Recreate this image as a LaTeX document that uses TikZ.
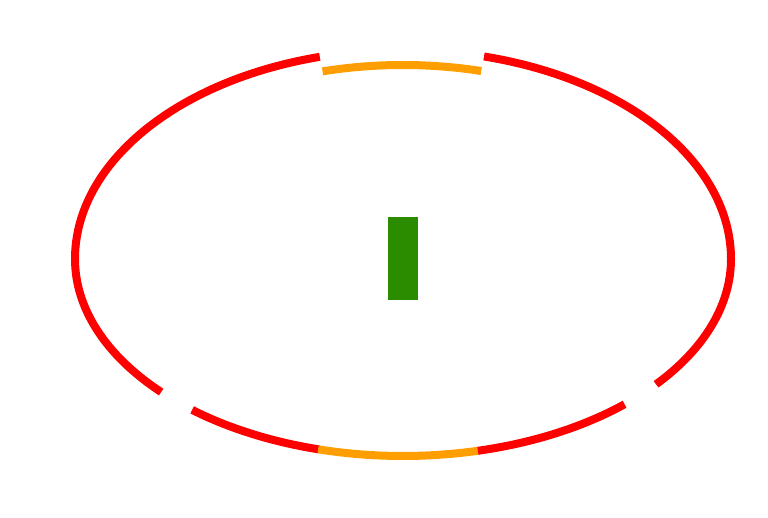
\documentclass[tikz,border=0pt]{standalone}
\begin{document}
\begin{tikzpicture}[x=1pt,y=1pt,
  ring/.style={line width=8pt, line cap=butt},
  redring/.style={ring, draw=ringred},
  orangering/.style={ring, draw=ringorange},
  bar/.style={fill=bargreen, draw=none, minimum width=30pt, minimum height=83pt, inner sep=0pt}]
\definecolor{ringred}{RGB}{255,0,0}
\definecolor{ringorange}{RGB}{255,158,0}
\definecolor{bargreen}{RGB}{43,140,0}
\useasboundingbox (0,0) rectangle (768,518);
\coordinate (c) at (403,259);
\coordinate (ct) at (403,244);
% red arcs (upper half ry=209, lower half ry=197)
\draw[redring] (c) ++(104.7:328 and 209)
  arc[start angle=104.7, end angle=180, x radius=328, y radius=209]
  arc[start angle=180, end angle=222.5, x radius=328, y radius=197];
\draw[redring] (c) ++(230:328 and 197) arc[start angle=230, end angle=255.2, x radius=328, y radius=197];
\draw[orangering] (c) ++(255:328 and 197) arc[start angle=255, end angle=283.4, x radius=328, y radius=197];
\draw[redring] (c) ++(283.2:328 and 197) arc[start angle=283.2, end angle=312.5, x radius=328, y radius=197];
\draw[redring] (c) ++(320.5:328 and 197)
  arc[start angle=320.5, end angle=360, x radius=328, y radius=197]
  arc[start angle=0, end angle=75.7, x radius=328, y radius=209];
% top orange arc
\draw[orangering] (ct) ++(104.2:328 and 209) arc[start angle=104.2, end angle=76.2, x radius=328, y radius=209];
% green bar
\node[bar] (g) at (403,259.5) {};
\end{tikzpicture}
\end{document}
